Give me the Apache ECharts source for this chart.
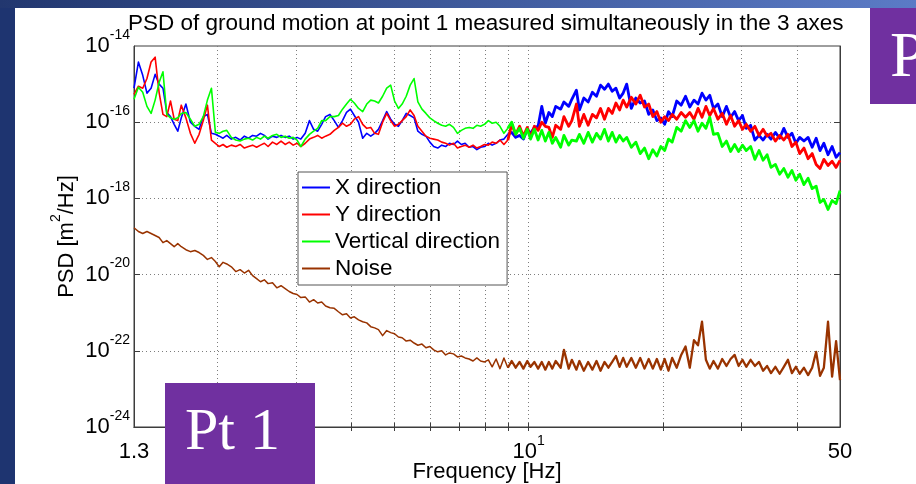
<!DOCTYPE html>
<html>
<head>
<meta charset="utf-8">
<title>PSD of ground motion</title>
<script src="https://cdn.jsdelivr.net/npm/echarts@6/dist/echarts.min.js"></script>
<style>
  html, body { margin: 0; padding: 0; background: #ffffff; }
  #chart { width: 916px; height: 484px; }
</style>
</head>
<body>
<div id="chart"></div>
<script>
// Frequency grid [Hz], shared by all four spectra
const freqHz = [
  1.30, 1.33, 1.36, 1.39, 1.42, 1.45, 1.48, 1.51, 1.54, 1.57,
  1.60, 1.63, 1.66, 1.70, 1.74, 1.78, 1.82, 1.86, 1.90, 1.94,
  1.98, 2.02, 2.06, 2.10, 2.15, 2.20, 2.25, 2.30, 2.35, 2.40,
  2.45, 2.50, 2.55, 2.60, 2.66, 2.72, 2.78, 2.84, 2.90, 2.96,
  3.02, 3.08, 3.15, 3.22, 3.29, 3.36, 3.43, 3.50, 3.58, 3.66,
  3.74, 3.82, 3.90, 3.98, 4.06, 4.15, 4.24, 4.33, 4.42, 4.51,
  4.60, 4.70, 4.80, 4.90, 5.00, 5.10, 5.20, 5.31, 5.42, 5.53,
  5.64, 5.76, 5.88, 6.00, 6.12, 6.25, 6.38, 6.51, 6.64, 6.78,
  6.92, 7.06, 7.20, 7.35, 7.50, 7.65, 7.80, 7.96, 8.12, 8.28,
  8.45, 8.62, 8.80, 8.98, 9.16, 9.35, 9.54, 9.73, 9.93, 10.1,
  10.3, 10.5, 10.7, 10.9, 11.1, 11.3, 11.5, 11.8, 12.0, 12.3,
  12.5, 12.8, 13.0, 13.3, 13.6, 13.9, 14.2, 14.5, 14.8, 15.1,
  15.4, 15.7, 16.0, 16.3, 16.6, 17.0, 17.4, 17.8, 18.2, 18.6,
  19.0, 19.4, 19.8, 20.2, 20.6, 21.0, 21.5, 22.0, 22.5, 23.0,
  23.5, 24.0, 24.5, 25.0, 25.5, 26.0, 26.6, 27.2, 27.8, 28.4,
  29.0, 29.6, 30.2, 30.8, 31.5, 32.2, 32.9, 33.6, 34.3, 35.0,
  35.8, 36.6, 37.4, 38.2, 39.0, 39.8, 40.6, 41.5, 42.4, 43.3,
  44.2, 45.1, 46.0, 47.0, 48.0, 49.0, 50.0
];

// PSD [m^2/Hz], X direction
const xDirection = [
  7.8e-16, 3.8e-15, 1.7e-15, 5.8e-16, 7.8e-16, 1.8e-15, 1.0e-15, 7.8e-16, 1.8e-16, 1.4e-16,
  8.8e-17, 5.8e-17, 1.3e-16, 3.0e-16, 1.0e-16, 7.8e-17, 6.5e-17, 1.4e-16, 1.6e-16, 5.1e-17,
  4.8e-17, 4.3e-17, 3.8e-17, 4.5e-17, 3.6e-17, 4.0e-17, 3.4e-17, 4.3e-17, 3.8e-17, 4.5e-17,
  4.3e-17, 5.1e-17, 4.5e-17, 3.6e-17, 4.3e-17, 4.0e-17, 4.5e-17, 4.0e-17, 4.3e-17, 3.6e-17,
  4.0e-17, 3.6e-17, 5.1e-17, 1.1e-16, 6.5e-17, 5.8e-17, 8.8e-17, 1.4e-16, 1.6e-16, 1.1e-16,
  7.3e-17, 1.1e-16, 1.8e-16, 2.2e-16, 1.5e-16, 1.0e-16, 3.8e-17, 5.1e-17, 4.3e-17, 5.1e-17,
  6.5e-17, 1.1e-16, 1.9e-16, 1.2e-16, 8.8e-17, 7.8e-17, 1.1e-16, 1.7e-16, 1.5e-16, 1.3e-16,
  5.8e-17, 4.8e-17, 4.3e-17, 3.0e-17, 2.3e-17, 2.1e-17, 2.5e-17, 2.3e-17, 2.8e-17, 2.6e-17,
  3.2e-17, 2.6e-17, 2.8e-17, 2.2e-17, 2.3e-17, 1.9e-17, 2.2e-17, 2.3e-17, 2.8e-17, 2.5e-17,
  2.8e-17, 3.4e-17, 3.6e-17, 4.8e-17, 5.4e-17, 4.0e-17, 4.5e-17, 3.6e-17, 6.5e-17, 5.1e-17,
  7.3e-17, 7.8e-17, 2.6e-16, 9.4e-17, 1.8e-16, 1.4e-16, 2.6e-16, 2.2e-16, 3.4e-16, 2.6e-16,
  4.0e-16, 6.9e-16, 2.1e-16, 4.3e-16, 3.4e-16, 6.1e-16, 4.8e-16, 9.4e-16, 7.3e-16, 1.0e-15,
  6.5e-16, 7.8e-16, 4.3e-16, 5.8e-16, 1.0e-15, 2.3e-16, 4.3e-16, 3.2e-16, 3.6e-16, 1.6e-16,
  2.1e-16, 1.1e-16, 1.3e-16, 8.8e-17, 1.9e-16, 1.4e-16, 3.6e-16, 2.8e-16, 4.8e-16, 2.5e-16,
  3.8e-16, 3.0e-16, 5.8e-16, 3.8e-16, 5.1e-16, 2.3e-16, 3.0e-16, 1.4e-16, 2.6e-16, 1.35e-16,
  1.9e-16, 1.1e-16, 1.5e-16, 6.9e-17, 8.3e-17, 3.4e-17, 4.5e-17, 3.4e-17, 4.8e-17, 3.6e-17,
  5.4e-17, 3.8e-17, 6.9e-17, 4.0e-17, 5.1e-17, 2.8e-17, 4.0e-17, 3.2e-17, 4.0e-17, 2.2e-17,
  3.8e-17, 1.8e-17, 2.8e-17, 1.4e-17, 2.3e-17, 1.2e-17, 1.6e-17
];

// PSD [m^2/Hz], Y direction
const yDirection = [
  5.4e-16, 8.8e-16, 7.8e-16, 1.4e-15, 3.8e-15, 5.1e-15, 6.1e-16, 1.6e-16, 1.4e-16, 3.6e-16,
  1.2e-16, 1.1e-16, 2.8e-16, 1.3e-16, 5.1e-17, 2.8e-17, 4.8e-17, 1.1e-16, 2.8e-16, 3.4e-17,
  2.8e-17, 2.3e-17, 2.6e-17, 2.2e-17, 2.5e-17, 2.3e-17, 2.6e-17, 2.1e-17, 2.3e-17, 2.5e-17,
  2.2e-17, 2.5e-17, 2.8e-17, 2.3e-17, 3.0e-17, 2.6e-17, 3.2e-17, 2.6e-17, 3.0e-17, 2.5e-17,
  2.8e-17, 2.3e-17, 2.8e-17, 3.6e-17, 4.0e-17, 4.5e-17, 3.8e-17, 4.3e-17, 4.8e-17, 6.1e-17,
  7.3e-17, 9.4e-17, 7.8e-17, 8.8e-17, 1.2e-16, 1.4e-16, 8.8e-17, 6.9e-17, 7.3e-17, 5.1e-17,
  4.8e-17, 1.0e-16, 1.7e-16, 1.1e-16, 7.8e-17, 8.8e-17, 1.1e-16, 1.4e-16, 2.1e-16, 1.5e-16,
  7.8e-17, 5.8e-17, 4.3e-17, 3.8e-17, 3.6e-17, 3.4e-17, 3.0e-17, 2.8e-17, 2.5e-17, 2.8e-17,
  2.1e-17, 2.3e-17, 2.5e-17, 2.2e-17, 2.5e-17, 2.1e-17, 2.3e-17, 2.6e-17, 2.5e-17, 3.0e-17,
  2.8e-17, 3.4e-17, 2.6e-17, 3.4e-17, 8.8e-17, 4.8e-17, 7.8e-17, 4.3e-17, 7.3e-17, 4.0e-17,
  7.8e-17, 6.1e-17, 1.0e-16, 7.8e-17, 7.3e-17, 4.0e-17, 8.3e-17, 6.5e-17, 1.4e-16, 7.8e-17,
  1.1e-16, 3.0e-16, 7.8e-17, 1.6e-16, 8.3e-17, 1.6e-16, 1.3e-16, 2.3e-16, 1.2e-16, 2.3e-16,
  1.7e-16, 3.2e-16, 2.1e-16, 3.8e-16, 2.5e-16, 4.5e-16, 3.0e-16, 5.1e-16, 2.5e-16, 3.0e-16,
  1.4e-16, 1.9e-16, 1.0e-16, 1.4e-16, 1.1e-16, 1.6e-16, 1.2e-16, 1.8e-16, 1.35e-16, 1.8e-16,
  1.2e-16, 2.3e-16, 1.35e-16, 2.6e-16, 1.5e-16, 2.3e-16, 1.2e-16, 1.7e-16, 8.8e-17, 1.5e-16,
  7.8e-17, 1.1e-16, 6.5e-17, 8.8e-17, 5.8e-17, 7.8e-17, 4.5e-17, 6.5e-17, 4.3e-17, 5.1e-17,
  3.2e-17, 4.5e-17, 3.4e-17, 4.8e-17, 2.3e-17, 3.0e-17, 1.5e-17, 2.1e-17, 1.1e-17, 1.5e-17,
  7.8e-18, 6.1e-18, 1.06e-17, 7.3e-18, 9.4e-18, 6.5e-18, 1.0e-17
];

// PSD [m^2/Hz], vertical direction
const verticalDirection = [
  4.0e-16, 8.3e-16, 6.1e-16, 2.6e-16, 1.7e-16, 3.8e-16, 1.1e-15, 2.1e-15, 1.6e-16, 1.3e-16,
  1.2e-16, 1.3e-16, 1.7e-16, 1.8e-16, 1.2e-16, 7.8e-17, 8.8e-17, 1.4e-16, 3.8e-16, 7.8e-16,
  5.4e-17, 5.1e-17, 5.8e-17, 6.1e-17, 4.0e-17, 3.4e-17, 3.2e-17, 3.6e-17, 3.8e-17, 3.4e-17,
  4.0e-17, 3.6e-17, 4.3e-17, 3.8e-17, 4.5e-17, 4.8e-17, 4.0e-17, 4.3e-17, 3.8e-17, 4.0e-17,
  3.4e-17, 2.3e-17, 3.6e-17, 4.8e-17, 5.8e-17, 6.9e-17, 1.1e-16, 1.1e-16, 1.4e-16, 1.4e-16,
  1.5e-16, 2.2e-16, 3.0e-16, 4.0e-16, 3.2e-16, 2.3e-16, 1.9e-16, 3.0e-16, 3.8e-16, 3.6e-16,
  3.2e-16, 4.8e-16, 7.8e-16, 9.4e-16, 3.6e-16, 2.3e-16, 3.0e-16, 4.8e-16, 9.4e-16, 1.4e-15,
  3.4e-16, 2.2e-16, 1.7e-16, 1.3e-16, 1.1e-16, 9.4e-17, 8.3e-17, 7.8e-17, 8.8e-17, 7.3e-17,
  5.1e-17, 6.1e-17, 6.9e-17, 7.3e-17, 6.9e-17, 8.3e-17, 7.8e-17, 8.8e-17, 1.1e-16, 9.4e-17,
  1.0e-16, 7.8e-17, 5.1e-17, 6.9e-17, 1.0e-16, 4.8e-17, 6.9e-17, 3.8e-17, 6.5e-17, 3.6e-17,
  6.5e-17, 3.4e-17, 6.1e-17, 3.2e-17, 5.4e-17, 2.8e-17, 4.0e-17, 2.2e-17, 4.5e-17, 2.5e-17,
  3.4e-17, 3.2e-17, 4.8e-17, 2.8e-17, 5.4e-17, 3.0e-17, 5.1e-17, 3.6e-17, 6.5e-17, 3.2e-17,
  5.4e-17, 3.0e-17, 4.5e-17, 3.2e-17, 4.0e-17, 2.2e-17, 3.0e-17, 1.5e-17, 2.1e-17, 1.1e-17,
  1.9e-17, 1.3e-17, 2.3e-17, 1.8e-17, 3.6e-17, 3.0e-17, 7.3e-17, 5.8e-17, 1.1e-16, 7.3e-17,
  1.1e-16, 5.8e-17, 9.4e-17, 6.9e-17, 1.35e-16, 4.8e-17, 5.1e-17, 2.3e-17, 3.2e-17, 1.7e-17,
  2.6e-17, 1.7e-17, 2.5e-17, 1.8e-17, 2.3e-17, 1.06e-17, 1.8e-17, 1.0e-17, 1.4e-17, 6.5e-18,
  7.8e-18, 4.3e-18, 6.1e-18, 3.6e-18, 5.4e-18, 3.0e-18, 4.3e-18, 2.3e-18, 3.4e-18, 1.8e-18,
  2.1e-18, 7.8e-19, 9.4e-19, 5.1e-19, 8.8e-19, 7.3e-19, 1.6e-18
];

// PSD [m^2/Hz], instrument noise
const noiseFloor = [
  1.7e-19, 1.35e-19, 1.2e-19, 1.35e-19, 1.2e-19, 1.06e-19, 9.4e-20, 6.9e-20, 7.8e-20, 6.5e-20,
  5.4e-20, 6.5e-20, 5.4e-20, 4.5e-20, 4.0e-20, 4.3e-20, 3.8e-20, 3.2e-20, 2.5e-20, 2.8e-20,
  2.2e-20, 1.6e-20, 2.1e-20, 1.9e-20, 1.6e-20, 1.2e-20, 1.35e-20, 1.1e-20, 1.3e-20, 9.4e-21,
  7.8e-21, 6.5e-21, 7.3e-21, 5.8e-21, 6.1e-21, 4.5e-21, 5.1e-21, 4.3e-21, 3.6e-21, 3.2e-21,
  3.0e-21, 2.5e-21, 2.6e-21, 1.9e-21, 2.2e-21, 1.8e-21, 1.9e-21, 1.5e-21, 1.35e-21, 1.3e-21,
  1.06e-21, 8.8e-22, 9.4e-22, 7.3e-22, 7.8e-22, 6.5e-22, 5.8e-22, 5.4e-22, 4.3e-22, 4.0e-22,
  3.6e-22, 2.5e-22, 3.4e-22, 3.0e-22, 2.8e-22, 2.3e-22, 2.2e-22, 1.8e-22, 1.9e-22, 1.6e-22,
  1.4e-22, 1.5e-22, 1.2e-22, 1.3e-22, 1.06e-22, 9.4e-23, 1.0e-22, 7.8e-23, 8.8e-23, 8.3e-23,
  6.9e-23, 7.3e-23, 6.5e-23, 6.1e-23, 5.4e-23, 6.5e-23, 5.4e-23, 5.1e-23, 5.8e-23, 3.8e-23,
  6.1e-23, 3.4e-23, 6.5e-23, 3.6e-23, 5.4e-23, 3.6e-23, 5.1e-23, 3.4e-23, 5.4e-23, 3.8e-23,
  5.1e-23, 3.4e-23, 5.1e-23, 3.2e-23, 5.1e-23, 3.4e-23, 5.4e-23, 3.6e-23, 1.06e-22, 3.4e-23,
  5.8e-23, 3.2e-23, 5.4e-23, 3.0e-23, 5.1e-23, 3.2e-23, 5.4e-23, 3.0e-23, 5.1e-23, 3.6e-23,
  5.1e-23, 7.3e-23, 3.8e-23, 6.5e-23, 3.8e-23, 6.5e-23, 3.6e-23, 6.5e-23, 3.4e-23, 6.1e-23,
  3.4e-23, 6.1e-23, 3.2e-23, 6.1e-23, 3.0e-23, 6.5e-23, 3.6e-23, 7.8e-23, 1.3e-22, 3.6e-23,
  1.9e-22, 1.4e-22, 5.8e-22, 5.8e-23, 3.4e-23, 5.4e-23, 3.4e-23, 6.1e-23, 4.0e-23, 6.1e-23,
  7.8e-23, 4.0e-23, 5.8e-23, 3.8e-23, 5.8e-23, 4.0e-23, 5.1e-23, 3.0e-23, 4.0e-23, 2.6e-23,
  3.8e-23, 2.5e-23, 3.8e-23, 5.8e-23, 2.6e-23, 3.8e-23, 2.5e-23, 3.6e-23, 2.3e-23, 3.6e-23,
  9.4e-23, 2.2e-23, 3.6e-23, 5.8e-22, 2.1e-23, 1.8e-22, 1.7e-23
];

const seriesNames = ['X direction', 'Y direction', 'Vertical direction', 'Noise'];
const seriesColors = ['#0000ff', '#ff0000', '#00ff00', '#993300'];

// Above ~9 Hz the spectra are dense and are drawn as a heavier trace
const denseFrom = 93;
const widthSparse = [1.6, 1.6, 1.6, 1.5];
const widthDense = [2.8, 2.8, 2.8, 2.3];

// Axis ticks and labels
const xLabelValues = [1.3, 10, 50];
const xGridValues = [2, 3, 4, 5, 6, 7, 8, 9, 10, 20, 30, 40];
const yLabelValues = [1e-24, 1e-22, 1e-20, 1e-18, 1e-16, 1e-14];
const yGridValues = [1e-22, 1e-20, 1e-18, 1e-16];

const FONT = '"Liberation Sans", Arial, Helvetica, sans-serif';
const SERIF = '"Liberation Serif", "Times New Roman", serif';
const AXIS_COLOR = '#3c3c3c';

// rich-text styles for "10" with a raised exponent
const powerRich = {
  b: { fontSize: 22, lineHeight: 36, fontFamily: FONT, color: '#000' },
  s: { fontSize: 14, lineHeight: 14, verticalAlign: 'top', fontFamily: FONT, color: '#000' }
};

function pairs(values, from, to) {
  const out = [];
  for (let i = from; i <= to; i++) out.push([freqHz[i], values[i]]);
  return out;
}

const seriesData = [xDirection, yDirection, verticalDirection, noiseFloor];
const last = freqHz.length - 1;

const seriesList = [];
seriesNames.forEach((name, k) => {
  const common = {
    name: name,
    type: 'line',
    xAxisIndex: 0,
    yAxisIndex: 0,
    showSymbol: false,
    symbol: 'none',
    clip: true,
    z: 2,
    itemStyle: { color: seriesColors[k] },
    emphasis: { disabled: true }
  };
  seriesList.push(Object.assign({}, common, {
    data: pairs(seriesData[k], 0, denseFrom),
    lineStyle: { width: widthSparse[k], color: seriesColors[k], join: 'round' }
  }));
  seriesList.push(Object.assign({}, common, {
    data: pairs(seriesData[k], denseFrom, last),
    lineStyle: { width: widthDense[k], color: seriesColors[k], join: 'round' }
  }));
});

const gridLineStyle = { type: [1, 3], color: '#7d7d7d', width: 1 };

const chart = echarts.init(document.getElementById('chart'), null, { renderer: 'canvas' });

chart.setOption({
  animation: false,
  backgroundColor: 'transparent',
  textStyle: { fontFamily: FONT },
  title: {
    text: 'PSD of ground motion at point 1 measured simultaneously in the 3 axes',
    left: 128,
    top: 12,
    padding: 0,
    textStyle: { fontSize: 22.5, fontWeight: 'normal', fontFamily: FONT, color: '#000' }
  },
  grid: {
    left: 134, top: 46, right: 76, bottom: 57,
    containLabel: false,
    outerBoundsMode: 'none',
    show: true, borderColor: AXIS_COLOR, borderWidth: 1, backgroundColor: 'transparent'
  },
  legend: {
    orient: 'vertical',
    left: 298,
    top: 172,
    padding: [2, 7, 3, 4],
    itemGap: 0,
    itemWidth: 28,
    itemHeight: 2,
    icon: 'rect',
    selectedMode: false,
    backgroundColor: '#ffffff',
    borderColor: '#555555',
    borderWidth: 1,
    borderRadius: 0,
    textStyle: { fontSize: 22.5, lineHeight: 27, fontFamily: FONT, color: '#000' },
    data: seriesNames
  },
  xAxis: [
    {
      type: 'log', logBase: 10, min: 1.3, max: 50,
      name: 'Frequency [Hz]', nameLocation: 'middle', nameGap: 33,
      nameMoveOverlap: false,
      nameTextStyle: { fontSize: 22, lineHeight: 24, fontFamily: FONT, color: '#000' },
      axisLine: { show: true, lineStyle: { color: AXIS_COLOR, width: 1 } },
      axisTick: { show: true, inside: true, length: 4, customValues: xGridValues, lineStyle: { color: AXIS_COLOR } },
      axisLabel: {
        customValues: xLabelValues,
        margin: 7,
        formatter: (v) => {
          const n = Number(Number(v).toPrecision(3));
          return n === 10 ? '{b|10}{s|1}' : '{b|' + n + '}';
        },
        rich: powerRich
      },
      splitLine: { show: true, lineStyle: gridLineStyle },
      minorTick: { show: false },
      minorSplitLine: { show: false }
    },
    {
      type: 'log', logBase: 10, min: 1.3, max: 50, position: 'top',
      axisLine: { show: true, lineStyle: { color: AXIS_COLOR, width: 1 } },
      axisTick: { show: true, inside: true, length: 4, customValues: xGridValues, lineStyle: { color: AXIS_COLOR } },
      axisLabel: { show: false },
      splitLine: { show: false }
    }
  ],
  yAxis: [
    {
      type: 'log', logBase: 10, min: 1e-24, max: 1e-14,
      name: '{b|PSD [m}{s|2}{b|/Hz]}', nameLocation: 'middle', nameGap: 49,
      nameMoveOverlap: false,
      nameTextStyle: { rich: powerRich },
      axisLine: { show: true, lineStyle: { color: AXIS_COLOR, width: 1 } },
      axisTick: { show: true, inside: true, length: 6, customValues: yGridValues, lineStyle: { color: AXIS_COLOR } },
      axisLabel: {
        customValues: yLabelValues,
        margin: 4,
        formatter: (v) => '{b|10}{s|' + Math.round(Math.log10(v)) + '}',
        rich: powerRich
      },
      splitLine: { show: true, lineStyle: gridLineStyle }
    },
    {
      type: 'log', logBase: 10, min: 1e-24, max: 1e-14, position: 'right',
      axisLine: { show: true, lineStyle: { color: AXIS_COLOR, width: 1 } },
      axisTick: { show: true, inside: true, length: 6, customValues: yGridValues, lineStyle: { color: AXIS_COLOR } },
      axisLabel: { show: false },
      splitLine: { show: false }
    }
  ],
  series: seriesList,
  graphic: [
    { type: 'rect', z: 50, shape: { x: 0, y: 0, width: 15, height: 484 }, style: { fill: '#1e3470' } },
    {
      type: 'rect', z: 50, shape: { x: 0, y: 0, width: 916, height: 8 },
      style: {
        fill: new echarts.graphic.LinearGradient(0, 0, 1, 0, [
          { offset: 0, color: '#22376f' },
          { offset: 1, color: '#5b7bc6' }
        ])
      }
    },
    { type: 'rect', z: 100, shape: { x: 870, y: 8, width: 46, height: 96 }, style: { fill: '#7030a0' } },
    {
      type: 'text', z: 101, x: 890, y: 59,
      style: { text: 'P', font: '64px ' + SERIF, fill: '#ffffff', verticalAlign: 'middle', textVerticalAlign: 'middle' }
    },
    { type: 'rect', z: 100, shape: { x: 165, y: 383, width: 150, height: 101 }, style: { fill: '#7030a0' } },
    {
      type: 'text', z: 101, x: 185, y: 433,
      style: { text: 'Pt 1', font: '60px ' + SERIF, fill: '#ffffff', verticalAlign: 'middle', textVerticalAlign: 'middle' }
    }
  ]
});
</script>
</body>
</html>
